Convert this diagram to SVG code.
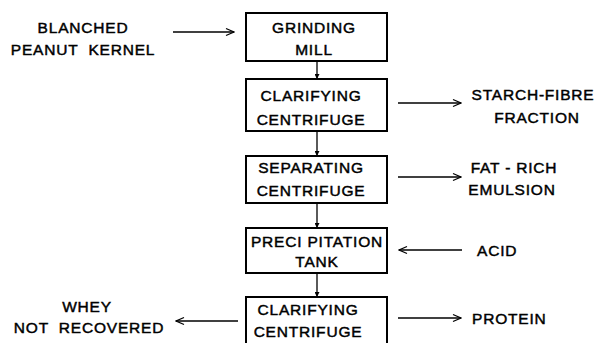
<svg xmlns="http://www.w3.org/2000/svg" width="597" height="343" viewBox="0 0 597 343">
<defs>
<marker id="open" viewBox="0 0 10 10" refX="9" refY="5" markerWidth="10" markerHeight="10" markerUnits="userSpaceOnUse" orient="auto">
<path d="M1,1.5 L9,5 L1,8.5" fill="none" stroke="#000" stroke-width="1.3"/>
</marker>
<marker id="solid" viewBox="0 0 6 6" refX="6" refY="3" markerWidth="5" markerHeight="5" markerUnits="userSpaceOnUse" orient="auto">
<path d="M0,0 L6,3 L0,6 Z" fill="#000"/>
</marker>
</defs>
<style>
.box{fill:#fff;stroke:#000;stroke-width:2}
text{font-family:"Liberation Sans",Arial,sans-serif;font-size:15.5px;letter-spacing:0.8px;fill:#000;stroke:#000;stroke-width:0.45;white-space:pre}
.c{text-anchor:middle}
.h{stroke:#000;stroke-width:1.3;fill:none;marker-end:url(#open)}
.v{stroke:#000;stroke-width:1.3;fill:none;marker-end:url(#solid)}
</style>
<rect width="597" height="343" fill="#fff"/>
<g id="connectors">
<line class="h" x1="173" y1="32" x2="234" y2="32"/>
<line class="v" x1="317" y1="61" x2="317" y2="79"/>
<line class="v" x1="317" y1="131" x2="317" y2="156"/>
<line class="v" x1="317" y1="203" x2="317" y2="228"/>
<line class="v" x1="317" y1="273" x2="317" y2="297"/>
<line class="h" x1="398" y1="103" x2="461" y2="103"/>
<line class="h" x1="398" y1="177" x2="461" y2="177"/>
<line class="h" x1="462" y1="250" x2="399" y2="250"/>
<line class="h" x1="398" y1="318" x2="461" y2="318"/>
<line class="h" x1="238" y1="321" x2="176" y2="321"/>
</g>
<g id="input">
<text class="c" x="83" y="33">BLANCHED</text>
<text class="c" x="83" y="55">PEANUT  KERNEL</text>
</g>
<g id="grinding-mill">
<rect class="box" x="246" y="13" width="141" height="48"/>
<text class="c" x="314" y="33">GRINDING</text>
<text class="c" x="314" y="55">MILL</text>
</g>
<g id="clarifying-centrifuge-1">
<rect class="box" x="246" y="79" width="141" height="52"/>
<text class="c" x="311" y="101">CLARIFYING</text>
<text class="c" x="311" y="125">CENTRIFUGE</text>
</g>
<g id="starch-fibre">
<text class="c" x="533" y="100">STARCH-FIBRE</text>
<text class="c" x="537" y="123">FRACTION</text>
</g>
<g id="separating-centrifuge">
<rect class="box" x="246" y="156" width="141" height="47"/>
<text class="c" x="311" y="173">SEPARATING</text>
<text class="c" x="311" y="196">CENTRIFUGE</text>
</g>
<g id="fat-rich">
<text class="c" x="514" y="173">FAT - RICH</text>
<text class="c" x="512" y="195">EMULSION</text>
</g>
<g id="precipitation-tank">
<rect class="box" x="246" y="228" width="141" height="45"/>
<text class="c" x="317" y="247">PRECI PITATION</text>
<text class="c" x="317" y="267">TANK</text>
</g>
<g id="acid">
<text x="477" y="256">ACID</text>
</g>
<g id="clarifying-centrifuge-2">
<rect class="box" x="246" y="297" width="141" height="52"/>
<text class="c" x="308" y="315">CLARIFYING</text>
<text class="c" x="308" y="337">CENTRIFUGE</text>
</g>
<g id="protein">
<text x="472" y="324">PROTEIN</text>
</g>
<g id="whey">
<text class="c" x="87" y="312">WHEY</text>
<text class="c" x="89" y="333">NOT  RECOVERED</text>
</g>
</svg>
